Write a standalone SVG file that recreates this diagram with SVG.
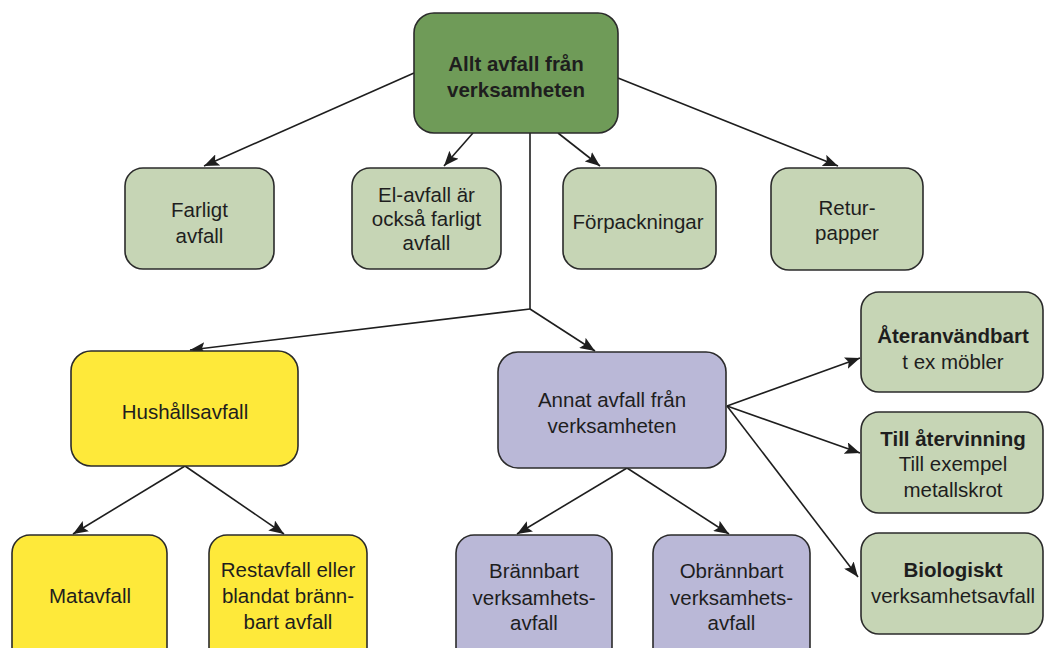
<svg xmlns="http://www.w3.org/2000/svg" width="1045" height="648" viewBox="0 0 1045 648">
<style>
.box{stroke:#2b2b2b;stroke-width:1.6}
.g1{fill:#6f9b58}
.g2{fill:#c6d5b5}
.y{fill:#fee93a}
.p{fill:#bab8d7}
text{font-family:"Liberation Sans",Arial,sans-serif;font-size:20.5px;fill:#1e1e1e;text-anchor:middle}
.b{font-weight:bold}
.c line{stroke:#1e1e1e;stroke-width:1.6;fill:none}
</style>
<defs>
<marker id="ah" markerUnits="userSpaceOnUse" markerWidth="16" markerHeight="12" refX="15" refY="6" orient="auto">
<path d="M0,0 L15,6 L0,12 L3,6 Z" fill="#1e1e1e"/>
</marker>
</defs>
<rect width="1045" height="648" fill="#ffffff"/>
<g class="c">
<line x1="414" y1="73" x2="204" y2="166" marker-end="url(#ah)"/>
<line x1="473" y1="133" x2="444" y2="166" marker-end="url(#ah)"/>
<line x1="558" y1="133" x2="600" y2="166" marker-end="url(#ah)"/>
<line x1="618" y1="78" x2="838" y2="166" marker-end="url(#ah)"/>
<line x1="530" y1="133" x2="530" y2="309"/>
<line x1="530" y1="309" x2="190" y2="350" marker-end="url(#ah)"/>
<line x1="530" y1="309" x2="595" y2="351" marker-end="url(#ah)"/>
<line x1="185" y1="466" x2="73" y2="534" marker-end="url(#ah)"/>
<line x1="185" y1="466" x2="284" y2="534" marker-end="url(#ah)"/>
<line x1="627" y1="468" x2="517" y2="534" marker-end="url(#ah)"/>
<line x1="627" y1="468" x2="729" y2="534" marker-end="url(#ah)"/>
<line x1="727" y1="406" x2="860" y2="358" marker-end="url(#ah)"/>
<line x1="727" y1="406" x2="860" y2="453" marker-end="url(#ah)"/>
<line x1="727" y1="406" x2="858" y2="577" marker-end="url(#ah)"/>
</g>
<g id="n-top">
<rect class="box g1" x="414" y="13" width="204" height="120" rx="20"/>
<text class="b" x="516" y="71">Allt avfall från</text>
<text class="b" x="516" y="97">verksamheten</text>
</g>
<g id="n-farligt">
<rect class="box g2" x="125" y="168" width="149" height="101" rx="18"/>
<text x="199.5" y="217">Farligt</text>
<text x="199.5" y="243">avfall</text>
</g>
<g id="n-elavfall">
<rect class="box g2" x="352" y="168" width="149" height="101" rx="18"/>
<text x="426.5" y="202">El-avfall är</text>
<text x="426.5" y="226">också farligt</text>
<text x="426.5" y="250">avfall</text>
</g>
<g id="n-forpackningar">
<rect class="box g2" x="563" y="168" width="153" height="101" rx="18"/>
<text x="638" y="229">Förpackningar</text>
</g>
<g id="n-returpapper">
<rect class="box g2" x="771" y="168" width="152" height="102" rx="18"/>
<text x="847" y="215">Retur-</text>
<text x="847" y="240">papper</text>
</g>
<g id="n-hushall">
<rect class="box y" x="71" y="351" width="227" height="115" rx="20"/>
<text x="185" y="419">Hushållsavfall</text>
</g>
<g id="n-annat">
<rect class="box p" x="498" y="352" width="228" height="116" rx="20"/>
<text x="612" y="407">Annat avfall från</text>
<text x="612" y="433">verksamheten</text>
</g>
<g id="n-ateranvandbart">
<rect class="box g2" x="861" y="292" width="182" height="100" rx="18"/>
<text class="b" x="953" y="343">Återanvändbart</text>
<text x="953" y="369">t ex möbler</text>
</g>
<g id="n-atervinning">
<rect class="box g2" x="861" y="412" width="182" height="101" rx="18"/>
<text class="b" x="953" y="446">Till återvinning</text>
<text x="953" y="471">Till exempel</text>
<text x="953" y="497">metallskrot</text>
</g>
<g id="n-biologiskt">
<rect class="box g2" x="861" y="533" width="182" height="101" rx="18"/>
<text class="b" x="953" y="577">Biologiskt</text>
<text x="953" y="603">verksamhetsavfall</text>
</g>
<g id="n-matavfall">
<rect class="box y" x="12" y="535" width="155" height="130" rx="18"/>
<text x="90" y="603">Matavfall</text>
</g>
<g id="n-restavfall">
<rect class="box y" x="209" y="535" width="158" height="130" rx="18"/>
<text x="288" y="577">Restavfall eller</text>
<text x="288" y="603">blandat bränn-</text>
<text x="288" y="629">bart avfall</text>
</g>
<g id="n-brannbart">
<rect class="box p" x="456" y="535" width="156" height="130" rx="18"/>
<text x="534" y="578">Brännbart</text>
<text x="534" y="605">verksamhets-</text>
<text x="534" y="630">avfall</text>
</g>
<g id="n-obrannbart">
<rect class="box p" x="653" y="535" width="157" height="130" rx="18"/>
<text x="731.5" y="578">Obrännbart</text>
<text x="731.5" y="605">verksamhets-</text>
<text x="731.5" y="630">avfall</text>
</g>
</svg>
